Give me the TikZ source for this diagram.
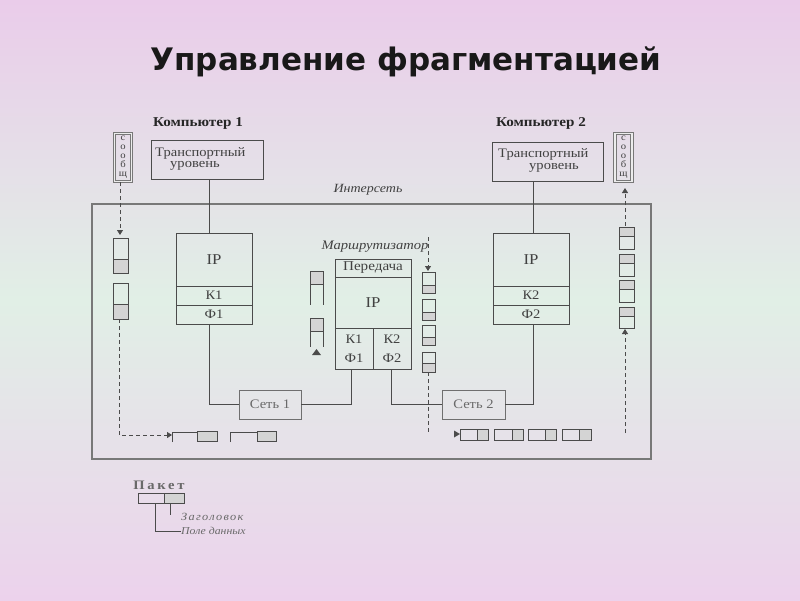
\documentclass[tikz,border=0pt]{standalone}
\usepackage{fontspec}
\setmainfont[FakeStretch=1.12]{Liberation Serif}
\newfontfamily\titlefont{DejaVu Sans}
\usetikzlibrary{arrows.meta,calc}
\definecolor{bgtop}{RGB}{234,204,234}
\definecolor{bgmid}{RGB}{225,239,230}
\definecolor{bgbot}{RGB}{236,210,236}
\definecolor{ln}{RGB}{75,75,75}
\definecolor{pk}{RGB}{212,212,212}
\definecolor{fr}{RGB}{120,120,120}
\definecolor{tx}{RGB}{65,65,65}
\definecolor{txl}{RGB}{105,105,105}
\begin{document}
\begin{tikzpicture}[x=1pt,y=-1pt,
  bx/.style={draw=ln, line width=0.8pt, rectangle, inner sep=0pt, text=tx},
  conn/.style={draw=ln, line width=0.8pt},
  pkt/.style={draw=ln, line width=0.7pt},
  dsh/.style={draw=ln, line width=0.9pt, dash pattern=on 4pt off 3pt},
  tip/.style={-{Triangle[width=6pt,length=5pt]}},
  lbl/.style={inner sep=0pt, text=tx},
  txt/.style={font=\fontsize{13}{15}\selectfont},
  msgbox/.style={draw=fr, double=white!85!gray, double distance=1.2pt, line width=1pt,
    minimum width=17pt, minimum height=48pt, inner sep=0pt, align=center, text=tx,
    font=\fontsize{9.5}{9}\selectfont}
]
\shade[top color=bgtop, bottom color=bgbot, middle color=bgmid] (0,0) rectangle (800,600);
\useasboundingbox (0,0) rectangle (800,600);

% title
\node[inner sep=0pt, text=black!90] (title) at (406,62)
  {\titlefont\bfseries\fontsize{31}{33}\selectfont Управление фрагментацией};

% internet frame
\node[draw=fr, line width=1.6pt, minimum width=559pt, minimum height=255pt, inner sep=0pt] (inet) at (371.5,331.5) {};
\node[lbl, font=\itshape\fontsize{12.5}{14}\selectfont] (inetlbl) at (368,190) {Интерсеть};

% computers
\node[lbl, text=black!85, font=\bfseries\fontsize{13.5}{15}\selectfont] (comp1) at (198,123) {Компьютер 1};
\node[lbl, text=black!85, font=\bfseries\fontsize{13.5}{15}\selectfont] (comp2) at (541,123) {Компьютер 2};

\node[bx, minimum width=112pt, minimum height=39pt] (tr1) at (207,159.5) {};
\node[lbl, txt, anchor=west] (tr1a) at (155,153) {Транспортный};
\node[lbl, txt, anchor=west] (tr1b) at (170,166) {уровень};
\node[bx, minimum width=111pt, minimum height=39pt] (tr2) at (547.5,161.5) {};
\node[lbl, txt, anchor=west] (tr2a) at (498,154) {Транспортный};
\node[lbl, txt, anchor=west] (tr2b) at (529,168) {уровень};

\node[msgbox] (msg1) at (123,157.5) {с\\о\\о\\б\\щ};
\node[msgbox] (msg2) at (623.5,157.5) {с\\о\\о\\б\\щ};

% IP stacks of hosts
\node[bx, minimum width=76pt, minimum height=53pt, font=\fontsize{15}{15}\selectfont] (ip1) at (214,259.5) {IP};
\node[bx, minimum width=76pt, minimum height=19pt, txt] (k1) at (214,295.5) {К1};
\node[bx, minimum width=76pt, minimum height=19pt, txt] (f1) at (214,314.5) {Ф1};
\node[bx, minimum width=76pt, minimum height=53pt, font=\fontsize{15}{15}\selectfont] (ip2) at (531,259.5) {IP};
\node[bx, minimum width=76pt, minimum height=19pt, txt] (k2) at (531,295.5) {К2};
\node[bx, minimum width=76pt, minimum height=19pt, txt] (f2) at (531,314.5) {Ф2};

% router
\node[lbl, font=\itshape\fontsize{13}{14}\selectfont] (rlbl) at (375,247) {Маршрутизатор};
\node[bx, minimum width=76pt, minimum height=18pt, font=\fontsize{13.5}{15}\selectfont] (rhead) at (373,268) {Передача};
\node[bx, minimum width=76pt, minimum height=51pt, font=\fontsize{15}{15}\selectfont] (rip) at (373,302.5) {IP};
\node[bx, minimum width=38pt, minimum height=41pt, align=center, font=\fontsize{13}{19}\selectfont] (rk1) at (354,348.5) {К1\\Ф1};
\node[bx, minimum width=38pt, minimum height=41pt, align=center, font=\fontsize{13}{19}\selectfont] (rk2) at (392,348.5) {К2\\Ф2};

% networks
\node[bx, draw=ln!80, minimum width=62pt, minimum height=29pt, txt, text=txl] (net1) at (270,404.5) {Сеть 1};
\node[bx, draw=ln!80, minimum width=63pt, minimum height=29pt, txt, text=txl] (net2) at (473.5,404.5) {Сеть 2};

% connectors
\coordinate (x1) at (209,0);
\coordinate (x2) at (533,0);
\coordinate (x3) at (351,0);
\coordinate (x4) at (391,0);
\draw[conn] (tr1.south -| x1) -- (ip1.north -| x1);
\draw[conn] (tr2.south -| x2) -- (ip2.north -| x2);
\draw[conn] (f1.south -| x1) |- (net1.west);
\draw[conn] (net1.east) -| (rk1.south -| x3);
\draw[conn] (rk2.south -| x4) |- (net2.west);
\draw[conn] (net2.east) -| (f2.south -| x2);

% left packets (computer 1)
\draw[pkt] (113,238) rectangle (128,273);
\draw[pkt, fill=pk] (113,259) rectangle (128,273);
\draw[pkt] (113,283) rectangle (128,319);
\draw[pkt, fill=pk] (113,304) rectangle (128,319);
\coordinate (la) at (120,235);
\draw[dsh, tip] (msg1.south -| la) -- (la);
\coordinate (lb) at (119,319);
\coordinate (lc) at (172,435);
\draw[dsh, tip] (lb) |- (lc);

% bottom-left packets
\draw[pkt] (172,442) -- (172,432) -- (197,432);
\draw[pkt, fill=pk] (197,431) rectangle (217,441);
\draw[pkt] (230,442) -- (230,432) -- (257,432);
\draw[pkt, fill=pk] (257,431) rectangle (276,441);

% router left packets
\draw[pkt, fill=pk] (310,271) rectangle (323,284);
\draw[pkt] (310,284) -- (310,305) (323,284) -- (323,305);
\draw[pkt, fill=pk] (310,318) rectangle (323,331);
\draw[pkt] (310,331) -- (310,347) (323,331) -- (323,347);
\fill[ln] (312,355) -- (321,355) -- (316.5,349) -- cycle;

% router right packets
\coordinate (r0) at (428,237);
\coordinate (r1) at (428,271);
\draw[dsh, tip] (r0) -- (r1);
\draw[pkt] (422,272) rectangle (435,293);
\draw[pkt, fill=pk] (422,285) rectangle (435,293);
\draw[pkt] (422,299) rectangle (435,320);
\draw[pkt, fill=pk] (422,312) rectangle (435,320);
\draw[pkt] (422,325) rectangle (435,345);
\draw[pkt, fill=pk] (422,337) rectangle (435,345);
\draw[pkt] (422,352) rectangle (435,372);
\draw[pkt, fill=pk] (422,363) rectangle (435,372);
\coordinate (r2) at (428,372);
\coordinate (r3) at (428,432);
\draw[dsh] (r2) -- (r3);

% bottom-right packets
\fill[ln] (454,430.5) -- (454,437.5) -- (460,434) -- cycle;
\draw[pkt] (460,429) rectangle (488,440);
\draw[pkt, fill=pk] (477,429) rectangle (488,440);
\draw[pkt] (494,429) rectangle (523,440);
\draw[pkt, fill=pk] (512,429) rectangle (523,440);
\draw[pkt] (528,429) rectangle (556,440);
\draw[pkt, fill=pk] (545,429) rectangle (556,440);
\draw[pkt] (562,429) rectangle (591,440);
\draw[pkt, fill=pk] (579,429) rectangle (591,440);

% right packets (computer 2)
\draw[pkt] (619,227) rectangle (634,249);
\draw[pkt, fill=pk] (619,227) rectangle (634,236);
\draw[pkt] (619,254) rectangle (634,276);
\draw[pkt, fill=pk] (619,254) rectangle (634,263);
\draw[pkt] (619,280) rectangle (634,302);
\draw[pkt, fill=pk] (619,280) rectangle (634,289);
\draw[pkt] (619,307) rectangle (634,328);
\draw[pkt, fill=pk] (619,307) rectangle (634,316);
\coordinate (ra) at (625,433);
\coordinate (rb) at (625,329);
\draw[dsh, tip] (ra) -- (rb);
\coordinate (rc) at (625,226);
\coordinate (rd) at (625,188);
\draw[dsh, tip] (rc) -- (rd);

% legend
\node[lbl, text=txl, font=\bfseries\fontsize{13}{15}\selectfont\addfontfeature{LetterSpace=21}] (pktlbl) at (159,485) {Пакет};
\node[pkt, draw=ln, minimum width=26pt, minimum height=10pt, inner sep=0pt] (lpd) at (151,498) {};
\node[pkt, draw=ln, fill=pk, minimum width=20pt, minimum height=10pt, inner sep=0pt] (lph) at (174,498) {};
\coordinate (hx) at (170,515);
\coordinate (dx) at (155,531);
\node[lbl, text=txl, anchor=west, font=\itshape\fontsize{11}{13}\selectfont\addfontfeature{LetterSpace=12}] (hdr) at (181,517) {Заголовок};
\node[lbl, text=txl, anchor=west, font=\itshape\fontsize{10.5}{13}\selectfont] (dat) at (181,531) {Поле данных};
\draw[conn, line width=0.6pt] (lph.south -| hx) -- (hx);
\draw[conn, line width=0.6pt] (lpd.south -| dx) |- (dat.west);
\end{tikzpicture}
\end{document}
